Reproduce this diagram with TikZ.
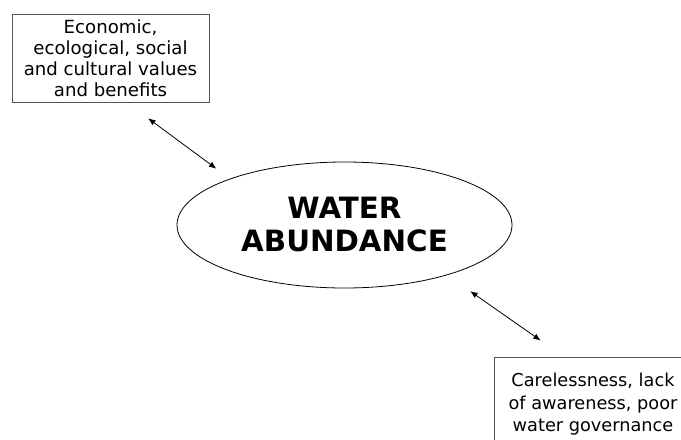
\documentclass[tikz,border=0pt]{standalone}
\usepackage{fontspec}
\setmainfont{DejaVu Sans}
\usepackage{tikz}
\usetikzlibrary{arrows.meta,positioning,shapes.geometric,calc}
\definecolor{boxgray}{RGB}{85,85,85}
\tikzset{
  % --- Factor boxes ----------------------------------------------------------
  factorbox/.style={
    rectangle, draw=boxgray, fill=white, line width=0.75pt,
    align=center, inner sep=0pt
  },
  valuesbox/.style={
    factorbox, minimum width=147.75pt, minimum height=66pt,
    font=\fontsize{13.6}{15.75}\selectfont
  },
  threatbox/.style={
    factorbox, minimum width=148.5pt, minimum height=71.25pt,
    font=\fontsize{13.3}{16.9}\selectfont
  },
  % --- Central resource ------------------------------------------------------
  corenode/.style={
    ellipse, draw=black, line width=0.6pt, align=center, inner sep=0pt,
    minimum width=251.25pt, minimum height=94.5pt,
    font=\bfseries\fontsize{22}{24.75}\selectfont
  },
  twoway/.style={{Latex[length=5.5pt,width=4.5pt]}-{Latex[length=5.5pt,width=4.5pt]},
    draw=black, line width=0.6pt},
}

\begin{document}
\begin{tikzpicture}[x=0.75pt, y=-0.75pt]
    \useasboundingbox (0,0) rectangle (681,439);
    \clip (0,0) rectangle (681,439);

    \node[corenode] (water) at (344.5,225) {WATER\\ABUNDANCE};
    \node[valuesbox] (values) at (110.5,58) {Economic,\\ecological, social\\and cultural values\\and benefits};
    \node[threatbox] (threats) at (593,404.5) {Carelessness, lack\\of awareness, poor\\water governance};

    \draw[twoway, shorten <=20pt, shorten >=12.6pt] ([shift={(16.2,0)}]values.south) -- (water.158);
    \draw[twoway, shorten <=21pt, shorten >=20.9pt] (water.334) -- ([shift={(70,0)}]threats.north west);
  \end{tikzpicture}
\end{document}
